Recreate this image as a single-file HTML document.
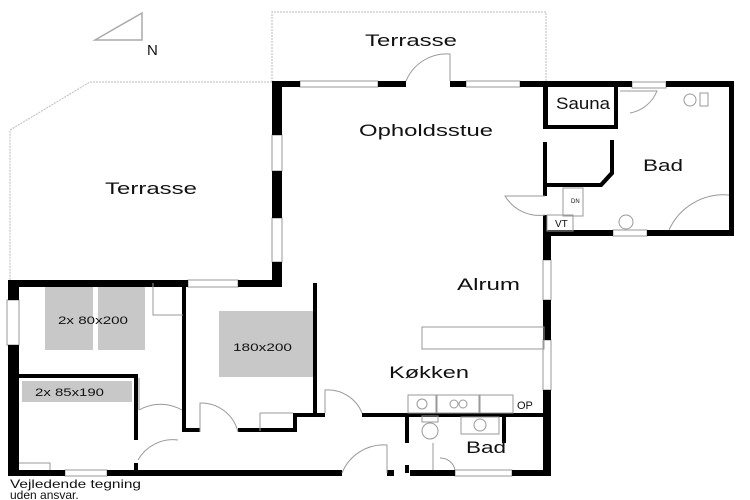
<!DOCTYPE html>
<html><head><meta charset="utf-8"><style>
html,body{margin:0;padding:0;background:#fff;width:750px;height:500px;overflow:hidden}
svg{display:block}
text{font-family:"Liberation Sans",sans-serif;fill:#111}
</style></head><body>
<svg width="750" height="500" viewBox="0 0 750 500">
<g fill="none" stroke="#bbb" stroke-width="1" stroke-dasharray="2,1">
<polyline points="272,82 272,12 546,12 546,82"/>
<polyline points="272,82 90,82 10,130 10,282"/>
</g>
<polygon points="95,40 142,13 142,40" fill="none" stroke="#aaa" stroke-width="1.5"/>
<text x="147" y="55" font-size="15">N</text>
<g fill="#fff" stroke="#999" stroke-width="1">
<rect x="300" y="81" width="78" height="6"/><rect x="466" y="81" width="54" height="6"/>
<rect x="272" y="135" width="10" height="36"/><rect x="272" y="218" width="10" height="44"/>
<rect x="188" y="280" width="50" height="7"/><rect x="7" y="300" width="12" height="45"/>
<rect x="65" y="470" width="42" height="6"/><rect x="455" y="470" width="57" height="6"/>
<rect x="543" y="260" width="8" height="40"/><rect x="543" y="340" width="8" height="50"/>
<rect x="632" y="82" width="34" height="6"/><rect x="613" y="230" width="34" height="6"/>
</g>
<g fill="#000">
<rect x="272" y="81" width="28" height="6"/><rect x="378" y="81" width="28" height="6"/>
<rect x="450" y="81" width="16" height="6"/><rect x="520" y="81" width="112" height="6"/>
<rect x="666" y="81" width="67" height="6"/>
<rect x="272" y="81" width="10" height="54"/><rect x="272" y="171" width="10" height="47"/><rect x="272" y="262" width="10" height="25"/>
<rect x="543" y="81" width="5" height="48"/><rect x="543" y="125" width="75" height="4"/><rect x="614" y="87" width="4" height="42"/>
<rect x="543" y="142" width="4" height="54"/><rect x="543" y="215" width="4" height="21"/>
<polygon points="545,183 600,183 610,172 610,140 614,140 614,174 602,187 545,187"/>
<rect x="729" y="81" width="5" height="155"/><rect x="543" y="230" width="70" height="6"/><rect x="647" y="230" width="87" height="6"/>
<rect x="543" y="230" width="8" height="30"/><rect x="543" y="300" width="8" height="40"/><rect x="543" y="390" width="8" height="86"/>
<rect x="238" y="280" width="40" height="7"/><rect x="8" y="280" width="180" height="7"/>
<rect x="8" y="280" width="11" height="20"/><rect x="8" y="345" width="11" height="131"/>
<rect x="8" y="470" width="57" height="6"/><rect x="107" y="470" width="235" height="6"/><rect x="387" y="470" width="7" height="6"/><rect x="410" y="470" width="45" height="6"/><rect x="512" y="470" width="39" height="6"/>
<rect x="182" y="283" width="4" height="149"/><rect x="313" y="283" width="4" height="134"/>
<rect x="182" y="428" width="18" height="4"/><rect x="238" y="428" width="58" height="4"/><rect x="293" y="413" width="4" height="19"/><rect x="293" y="413" width="24" height="4"/>
<rect x="313" y="413" width="12" height="4"/><rect x="362" y="413" width="183" height="4"/>
<rect x="405" y="413" width="4" height="30"/><rect x="405" y="465" width="4" height="8"/><rect x="502" y="413" width="4" height="30"/>
<rect x="19" y="374" width="119" height="4"/><rect x="134" y="374" width="4" height="66"/><rect x="134" y="463" width="4" height="8"/>
</g>
<g fill="#c8c8c8">
<rect x="45" y="287" width="48" height="63"/><rect x="98" y="287" width="47" height="63"/>
<rect x="22" y="381" width="110" height="21"/><rect x="219" y="311" width="94" height="66"/>
</g>
<g fill="none" stroke="#999" stroke-width="1">
<path d="M406,81 A44,44 0 0 1 450,54 L450,81"/>
<path d="M545,196 L505,196 A40,40 0 0 0 545,215"/>
<path d="M620,91 L657,91 A36,36 0 0 1 630,113"/>
<path d="M729,195 A60,60 0 0 0 669,230"/>
<path d="M139,378 L139,410 M182,410 A43,43 0 0 0 139,410"/>
<path d="M200,432 L200,403 A38,38 0 0 1 238,432"/>
<path d="M325,413 L325,390 A37,37 0 0 1 362,413"/>
<path d="M342,473 A45,45 0 0 1 387,445 L387,473"/>
<path d="M138,460 A40,40 0 0 1 178,440"/>
<path d="M153,283 L153,315 L183,315"/>
<path d="M19,463 L50,463 L50,470"/>
<path d="M260,413 L260,431 M260,413 L293,413"/>
<rect x="422" y="327" width="122" height="22"/>
<rect x="563" y="188" width="20" height="28"/><rect x="547" y="215" width="26" height="16"/>
<rect x="408" y="395" width="28" height="18"/><rect x="437" y="395" width="42" height="18"/><rect x="480" y="395" width="33" height="18"/>
<circle cx="422" cy="404" r="5"/><circle cx="454" cy="404" r="4"/><circle cx="463" cy="404" r="4"/>
<circle cx="626" cy="222" r="7"/><circle cx="690" cy="100" r="6"/><rect x="700" y="93" width="8" height="13"/>
<ellipse cx="430" cy="431" rx="8" ry="8"/><rect x="422" y="416" width="16" height="6"/>
<rect x="461" y="417" width="38" height="17"/><circle cx="480" cy="425" r="6"/>
<path d="M433,443 L433,470 M440,458 A15,15 0 0 1 455,470"/>
</g>
<g font-size="17">
<text x="365" y="46" textLength="92" lengthAdjust="spacingAndGlyphs">Terrasse</text>
<text x="105" y="194" textLength="92" lengthAdjust="spacingAndGlyphs">Terrasse</text>
<text x="359" y="136" textLength="134" lengthAdjust="spacingAndGlyphs">Opholdsstue</text>
<text x="556" y="109" textLength="54" lengthAdjust="spacingAndGlyphs">Sauna</text>
<text x="643" y="171" textLength="40" lengthAdjust="spacingAndGlyphs">Bad</text>
<text x="457" y="290" textLength="63" lengthAdjust="spacingAndGlyphs">Alrum</text>
<text x="389" y="378" textLength="80" lengthAdjust="spacingAndGlyphs">Køkken</text>
<text x="466" y="453" textLength="40" lengthAdjust="spacingAndGlyphs">Bad</text>
</g>
<g font-size="11">
<text x="58" y="324" textLength="70" lengthAdjust="spacingAndGlyphs">2x 80x200</text>
<text x="35" y="396" textLength="69" lengthAdjust="spacingAndGlyphs">2x 85x190</text>
<text x="233" y="351" textLength="59" lengthAdjust="spacingAndGlyphs">180x200</text>
<text x="555" y="227" font-size="10">VT</text>
<text x="517" y="409" font-size="11">OP</text>
<text x="571" y="203" font-size="6">DN</text>
<text x="10" y="488" font-size="12" textLength="131" lengthAdjust="spacingAndGlyphs">Vejledende tegning</text>
<text x="10" y="499" font-size="12">uden ansvar.</text>
</g>
</svg>
</body></html>
